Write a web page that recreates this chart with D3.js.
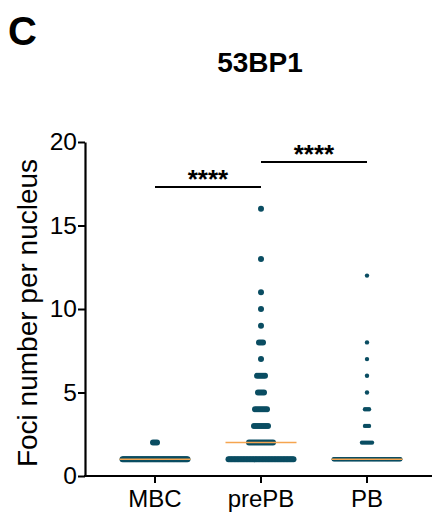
<!DOCTYPE html>
<html>
<head>
<meta charset="utf-8">
<script src="https://cdn.jsdelivr.net/npm/d3@7"></script>
<style>
  body { margin: 0; background: #fff; }
  svg text { font-family: Arial, "Liberation Sans", sans-serif; fill: #000; }
</style>
</head>
<body>
<svg id="chart"></svg>
<script>
// --------------------
// Data
// --------------------
const categories = ["MBC", "prePB", "PB"];

// [foci value, number of nuclei] per group
const mbcCounts = [[1, 60], [2, 3]];
const prePBCounts = [[1, 45], [2, 13], [3, 8], [4, 7], [5, 4], [6, 5], [7, 1],
  [8, 3], [9, 1], [10, 1], [11, 1], [13, 1], [16, 1]];
const pbCounts = [[1, 60], [2, 6], [3, 3], [4, 3], [5, 1], [6, 1], [7, 1], [8, 1], [12, 1]];

const medians = [1, 2, 1];
const yTicks = [0, 5, 10, 15, 20];

// significance brackets: [from, to, label]
const comparisons = [["MBC", "prePB", "****"], ["prePB", "PB", "****"]];
const bracketLevels = [17.3, 18.8];

// --------------------
// Basic setup
// --------------------
const width = 438;
const height = 512;
const dotColor = "#0a4d62";
const medianColor = "#f5a54f";

const svg = d3.select("#chart")
  .attr("width", width)
  .attr("height", height);

const y = d3.scaleLinear().domain([0, 20]).range([476, 142]);
const x = d3.scaleBand().domain(categories).range([102, 420]);
const cx = c => x(c) + x.bandwidth() / 2;

const groups = [
  { name: "MBC", counts: mbcCounts, r: 3 },
  { name: "prePB", counts: prePBCounts, r: 3 },
  { name: "PB", counts: pbCounts, r: 2.2 }
];

// --------------------
// Dots (rows of points at each value, capped width like Prism)
// --------------------
const maxW = 71;
const baseStep = 2;
const dots = [];
groups.forEach(g => {
  g.counts.forEach(([v, n]) => {
    const step = n > 1 ? Math.min(baseStep, (maxW - 2 * g.r) / (n - 1)) : 0;
    for (let i = 0; i < n; i++) {
      dots.push({ x: cx(g.name) + (i - (n - 1) / 2) * step, v: v, r: g.r });
    }
  });
});

svg.append("g")
  .selectAll("circle")
  .data(dots)
  .join("circle")
    .attr("cx", d => d.x)
    .attr("cy", d => y(d.v))
    .attr("r", d => d.r)
    .attr("fill", dotColor);

// median lines
svg.append("g")
  .selectAll("line")
  .data(categories)
  .join("line")
    .attr("x1", d => cx(d) - maxW / 2)
    .attr("x2", d => cx(d) + maxW / 2)
    .attr("y1", (d, i) => y(medians[i]))
    .attr("y2", (d, i) => y(medians[i]))
    .attr("stroke", medianColor)
    .attr("stroke-width", 1.5);

// --------------------
// Axes
// --------------------
const yAxis = svg.append("g")
  .attr("transform", "translate(85,0)")
  .call(d3.axisLeft(y).tickValues(yTicks).tickSize(7).tickSizeOuter(0));
yAxis.select(".domain").attr("stroke-width", 2.2);
yAxis.selectAll(".tick line").attr("stroke-width", 2);
yAxis.selectAll(".tick text")
  .attr("x", -8)
  .attr("font-size", 24.5);

const xAxis = svg.append("g")
  .attr("transform", "translate(0,476)")
  .call(d3.axisBottom(x).tickSize(7).tickSizeOuter(0));
xAxis.select(".domain").remove();
xAxis.append("line")
  .attr("x1", 84).attr("x2", 432)
  .attr("stroke", "#000").attr("stroke-width", 2.2);
xAxis.selectAll(".tick line").attr("stroke-width", 2);
xAxis.selectAll(".tick text")
  .attr("y", 14)
  .attr("font-size", 24);

// --------------------
// Significance brackets
// --------------------
comparisons.forEach(([a, b, label], i) => {
  const yy = y(bracketLevels[i]);
  svg.append("line")
    .attr("x1", cx(a)).attr("x2", cx(b))
    .attr("y1", yy).attr("y2", yy)
    .attr("stroke", "#000").attr("stroke-width", 2);
  svg.append("text")
    .attr("x", (cx(a) + cx(b)) / 2)
    .attr("y", yy + 1)
    .attr("text-anchor", "middle")
    .attr("font-size", 26)
    .attr("font-weight", "bold")
    .text(label);
});

// --------------------
// Titles
// --------------------
svg.append("text")
  .attr("x", 8).attr("y", 45)
  .attr("font-size", 40)
  .attr("font-weight", "bold")
  .text("C");

svg.append("text")
  .attr("x", 260).attr("y", 72)
  .attr("text-anchor", "middle")
  .attr("font-size", 28)
  .attr("font-weight", "bold")
  .text("53BP1");

svg.append("text")
  .attr("transform", "translate(37,313) rotate(-90)")
  .attr("text-anchor", "middle")
  .attr("font-size", 28)
  .text("Foci number per nucleus");
</script>
</body>
</html>
